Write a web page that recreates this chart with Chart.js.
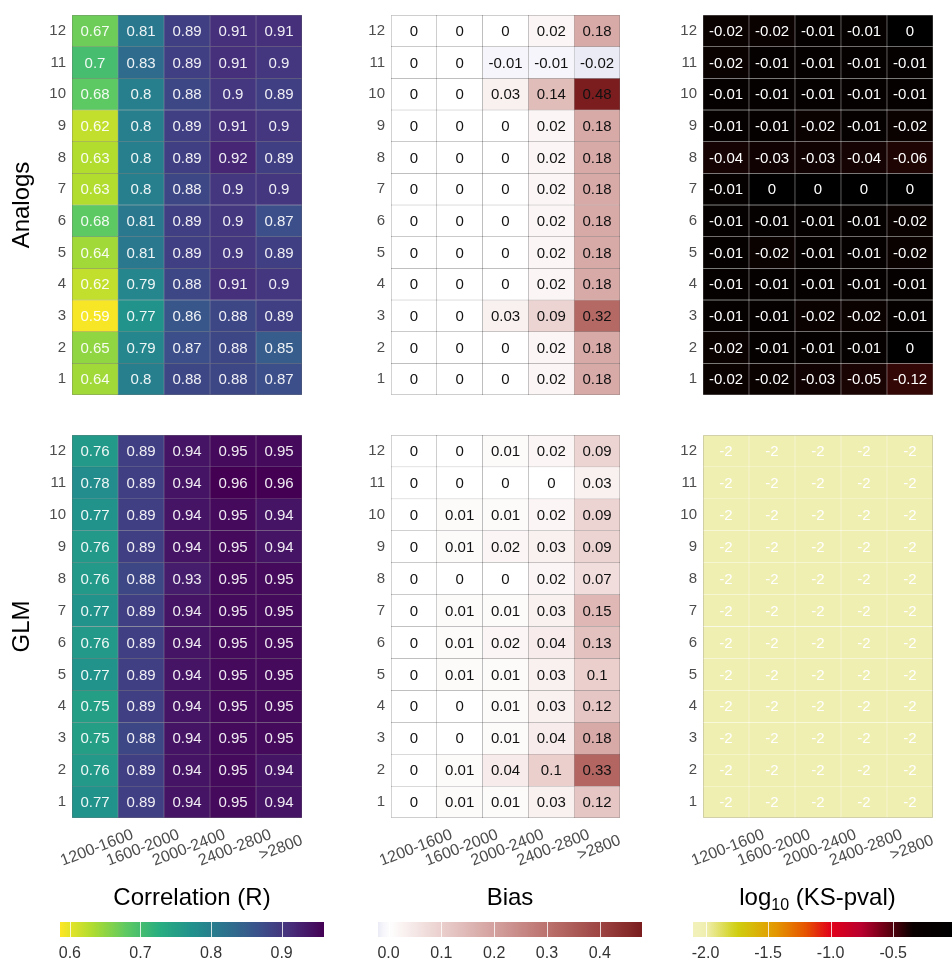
<!DOCTYPE html>
<html>
<head>
<meta charset="utf-8">
<script src="https://cdn.jsdelivr.net/npm/chart.js@4.4.1/dist/chart.umd.min.js"></script>
<style>
  body { margin: 0; background: #fff; }
  #wrap { position: relative; width: 952px; height: 963px; overflow: hidden; }
  canvas { position: absolute; }
</style>
</head>
<body>
<div id="wrap">
  <canvas id="corrTop" width="330" height="410" style="left:0;top:0"></canvas>
  <canvas id="biasTop" width="310" height="410" style="left:335px;top:0"></canvas>
  <canvas id="ksTop" width="302" height="410" style="left:650px;top:0"></canvas>
  <canvas id="corrBot" width="330" height="470" style="left:0;top:420px"></canvas>
  <canvas id="biasBot" width="310" height="470" style="left:335px;top:420px"></canvas>
  <canvas id="ksBot" width="302" height="470" style="left:650px;top:420px"></canvas>
  <canvas id="corrBar" width="300" height="81" style="left:40px;top:882px"></canvas>
  <canvas id="biasBar" width="300" height="81" style="left:358px;top:882px"></canvas>
  <canvas id="ksBar" width="280" height="81" style="left:672px;top:882px"></canvas>
</div>
<script>
const bins = ["1200-1600", "1600-2000", "2000-2400", "2400-2800", ">2800"];
const months = [1, 2, 3, 4, 5, 6, 7, 8, 9, 10, 11, 12];

// each array lists months 12 (top row) down to 1 (bottom row)
const analogsCorr = [
  [0.67, 0.81, 0.89, 0.91, 0.91],
  [0.7, 0.83, 0.89, 0.91, 0.9],
  [0.68, 0.8, 0.88, 0.9, 0.89],
  [0.62, 0.8, 0.89, 0.91, 0.9],
  [0.63, 0.8, 0.89, 0.92, 0.89],
  [0.63, 0.8, 0.88, 0.9, 0.9],
  [0.68, 0.81, 0.89, 0.9, 0.87],
  [0.64, 0.81, 0.89, 0.9, 0.89],
  [0.62, 0.79, 0.88, 0.91, 0.9],
  [0.59, 0.77, 0.86, 0.88, 0.89],
  [0.65, 0.79, 0.87, 0.88, 0.85],
  [0.64, 0.8, 0.88, 0.88, 0.87]
];
const analogsBias = [
  [0, 0, 0, 0.02, 0.18],
  [0, 0, -0.01, -0.01, -0.02],
  [0, 0, 0.03, 0.14, 0.48],
  [0, 0, 0, 0.02, 0.18],
  [0, 0, 0, 0.02, 0.18],
  [0, 0, 0, 0.02, 0.18],
  [0, 0, 0, 0.02, 0.18],
  [0, 0, 0, 0.02, 0.18],
  [0, 0, 0, 0.02, 0.18],
  [0, 0, 0.03, 0.09, 0.32],
  [0, 0, 0, 0.02, 0.18],
  [0, 0, 0, 0.02, 0.18]
];
const analogsKs = [
  [-0.02, -0.02, -0.01, -0.01, 0],
  [-0.02, -0.01, -0.01, -0.01, -0.01],
  [-0.01, -0.01, -0.01, -0.01, -0.01],
  [-0.01, -0.01, -0.02, -0.01, -0.02],
  [-0.04, -0.03, -0.03, -0.04, -0.06],
  [-0.01, 0, 0, 0, 0],
  [-0.01, -0.01, -0.01, -0.01, -0.02],
  [-0.01, -0.02, -0.01, -0.01, -0.02],
  [-0.01, -0.01, -0.01, -0.01, -0.01],
  [-0.01, -0.01, -0.02, -0.02, -0.01],
  [-0.02, -0.01, -0.01, -0.01, 0],
  [-0.02, -0.02, -0.03, -0.05, -0.12]
];
const glmCorr = [
  [0.76, 0.89, 0.94, 0.95, 0.95],
  [0.78, 0.89, 0.94, 0.96, 0.96],
  [0.77, 0.89, 0.94, 0.95, 0.94],
  [0.76, 0.89, 0.94, 0.95, 0.94],
  [0.76, 0.88, 0.93, 0.95, 0.95],
  [0.77, 0.89, 0.94, 0.95, 0.95],
  [0.76, 0.89, 0.94, 0.95, 0.95],
  [0.77, 0.89, 0.94, 0.95, 0.95],
  [0.75, 0.89, 0.94, 0.95, 0.95],
  [0.75, 0.88, 0.94, 0.95, 0.95],
  [0.76, 0.89, 0.94, 0.95, 0.94],
  [0.77, 0.89, 0.94, 0.95, 0.94]
];
const glmBias = [
  [0, 0, 0.01, 0.02, 0.09],
  [0, 0, 0, 0, 0.03],
  [0, 0.01, 0.01, 0.02, 0.09],
  [0, 0.01, 0.02, 0.03, 0.09],
  [0, 0, 0, 0.02, 0.07],
  [0, 0.01, 0.01, 0.03, 0.15],
  [0, 0.01, 0.02, 0.04, 0.13],
  [0, 0.01, 0.01, 0.03, 0.1],
  [0, 0, 0.01, 0.03, 0.12],
  [0, 0, 0.01, 0.04, 0.18],
  [0, 0.01, 0.04, 0.1, 0.33],
  [0, 0.01, 0.01, 0.03, 0.12]
];
const glmKs = [
  [-2, -2, -2, -2, -2],
  [-2, -2, -2, -2, -2],
  [-2, -2, -2, -2, -2],
  [-2, -2, -2, -2, -2],
  [-2, -2, -2, -2, -2],
  [-2, -2, -2, -2, -2],
  [-2, -2, -2, -2, -2],
  [-2, -2, -2, -2, -2],
  [-2, -2, -2, -2, -2],
  [-2, -2, -2, -2, -2],
  [-2, -2, -2, -2, -2],
  [-2, -2, -2, -2, -2]
];

const corrTicks = [0.6, 0.7, 0.8, 0.9];
const biasTicks = [0, 0.1, 0.2, 0.3, 0.4];
const ksTicks = [-2, -1.5, -1, -0.5];

const FONT = '"Liberation Sans", Arial, Helvetica, sans-serif';
Chart.defaults.font.family = FONT;

function hexRgb(h) {
  return [parseInt(h.slice(1, 3), 16), parseInt(h.slice(3, 5), 16), parseInt(h.slice(5, 7), 16)];
}
function ramp(stops, v) {
  if (v <= stops[0][0]) return stops[0][1];
  for (let i = 1; i < stops.length; i++) {
    if (v <= stops[i][0]) {
      const t = (v - stops[i - 1][0]) / (stops[i][0] - stops[i - 1][0]);
      const a = hexRgb(stops[i - 1][1]), b = hexRgb(stops[i][1]);
      const c = a.map((x, k) => Math.round(x + (b[k] - x) * t));
      return `rgb(${c[0]},${c[1]},${c[2]})`;
    }
  }
  return stops[stops.length - 1][1];
}

// viridis, reversed over the correlation range
const viridis = ["#fde725", "#addc30", "#5ec962", "#28ae80", "#21918c", "#2c728e", "#3b528b", "#472d7b", "#440154"];
const corrStops = viridis.map((c, i) => [0.586 + (0.96 - 0.586) * i / (viridis.length - 1), c]);
const biasStops = [[-0.02, "#ebebf6"], [0, "#ffffff"], [0.1, "#eacfcd"], [0.2, "#d3a19e"], [0.3, "#bb726e"], [0.4, "#9d4543"], [0.48, "#7b1d1e"]];
const ksStops = [[-2.2, "#f4f3c4"], [-2.0, "#f0efb2"], [-1.75, "#cfcf10"], [-1.45, "#e39a00"], [-1.2, "#e65400"], [-1.0, "#e2001a"], [-0.75, "#b8002e"], [-0.5, "#50000c"], [-0.35, "#0a0000"], [0, "#000000"]];
// the upper panel's near-zero cells carry a faint red tint
const ksTopStops = [[-0.15, "#3e0909"], [-0.06, "#1f0404"], [0, "#000000"]];

const corrColor = v => ramp(corrStops, v);
const biasColor = v => ramp(biasStops, v);
const ksColor = v => ramp(ksStops, v);
const ksTopColor = v => ramp(ksTopStops, v);

function heatmap(id, rows, colorFn, o) {
  const datasets = rows.map((row, i) => {
    const m = months[months.length - 1 - i];
    return {
      data: row.map(() => [m - 0.5, m + 0.5]),
      backgroundColor: row.map(colorFn),
      borderColor: o.border,
      borderWidth: 0.5,
      borderSkipped: false,
      grouped: false,
      barPercentage: 1,
      categoryPercentage: 1
    };
  });

  const cellText = {
    id: "cellText",
    afterDatasetsDraw(chart) {
      const ctx = chart.ctx, a = chart.chartArea;
      ctx.save();
      ctx.strokeStyle = "rgba(0,0,0,0.14)";
      ctx.lineWidth = 1;
      ctx.strokeRect(a.left + 0.5, a.top + 0.5, a.right - a.left - 1, a.bottom - a.top - 1);
      ctx.font = "15px " + FONT;
      ctx.fillStyle = o.text;
      ctx.textAlign = "center";
      ctx.textBaseline = "middle";
      chart.data.datasets.forEach((ds, i) => {
        chart.getDatasetMeta(i).data.forEach((bar, j) => {
          ctx.fillText(String(rows[i][j]), bar.x, (bar.y + bar.base) / 2 + 1);
        });
      });
      ctx.restore();
    }
  };

  const binText = {
    id: "binText",
    afterDraw(chart) {
      if (!o.xLabels) return;
      const ctx = chart.ctx, xs = chart.scales.x;
      ctx.save();
      ctx.font = "16px " + FONT;
      ctx.fillStyle = "#4d4d4d";
      ctx.textAlign = "center";
      ctx.textBaseline = "middle";
      bins.forEach((b, i) => {
        ctx.save();
        ctx.translate(xs.getPixelForValue(i) + 2, chart.chartArea.bottom + 30);
        ctx.rotate(-21 * Math.PI / 180);
        ctx.fillText(b, 0, 0);
        ctx.restore();
      });
      ctx.restore();
    }
  };

  new Chart(document.getElementById(id), {
    type: "bar",
    data: { labels: bins, datasets },
    options: {
      responsive: false,
      animation: false,
      layout: { padding: o.padding },
      plugins: { legend: { display: false }, tooltip: { enabled: false } },
      scales: {
        x: { display: false },
        y: {
          type: "linear",
          min: 0.5,
          max: 12.5,
          afterBuildTicks: s => { s.ticks = months.map(v => ({ value: v })); },
          afterFit: s => { s.width = o.axisWidth; },
          ticks: { color: "#4d4d4d", font: { size: 15 }, padding: 6 },
          grid: { display: false, drawTicks: false },
          border: { display: false },
          title: {
            display: !!o.title,
            text: o.title || "",
            color: "#000",
            font: { size: 24 },
            padding: { top: 8 }
          }
        }
      }
    },
    plugins: [cellText, binText]
  });
}

const topPad = { top: 13, bottom: 13 };
const botPad = { top: 13, bottom: 72 };
heatmap("corrTop", analogsCorr, corrColor, { border: "rgba(0,0,0,0.3)", text: "rgba(255,255,255,0.92)", axisWidth: 72, title: "Analogs", padding: { ...topPad, right: 28 } });
heatmap("biasTop", analogsBias, biasColor, { border: "rgba(0,0,0,0.32)", text: "#111", axisWidth: 56, padding: { ...topPad, right: 25 } });
heatmap("ksTop", analogsKs, ksTopColor, { border: "rgba(255,255,255,0.3)", text: "#fff", axisWidth: 53, padding: { ...topPad, right: 19 } });
heatmap("corrBot", glmCorr, corrColor, { border: "rgba(0,0,0,0.3)", text: "rgba(255,255,255,0.92)", axisWidth: 72, title: "GLM", padding: { ...botPad, right: 28 }, xLabels: true });
heatmap("biasBot", glmBias, biasColor, { border: "rgba(0,0,0,0.32)", text: "#111", axisWidth: 56, padding: { ...botPad, right: 25 }, xLabels: true });
heatmap("ksBot", glmKs, ksColor, { border: "rgba(255,255,255,0.3)", text: "#fff", axisWidth: 53, padding: { ...botPad, right: 19 }, xLabels: true });

function colorbar(id, min, max, ticks, colorFn, title, pad) {
  const barTitle = {
    id: "barTitle",
    afterDraw(chart) {
      const ctx = chart.ctx, a = chart.chartArea;
      const cx = (a.left + a.right) / 2 + (title.shift || 0), y = a.top - 24;
      ctx.save();
      ctx.fillStyle = "#000";
      ctx.textBaseline = "middle";
      const big = "24px " + FONT, small = "16px " + FONT;
      ctx.font = big;
      const w1 = ctx.measureText(title.main).width;
      ctx.font = small;
      const w2 = title.sub ? ctx.measureText(title.sub).width : 0;
      ctx.font = big;
      const w3 = title.rest ? ctx.measureText(title.rest).width : 0;
      let x = cx - (w1 + w2 + w3) / 2;
      ctx.textAlign = "left";
      ctx.fillText(title.main, x, y);
      x += w1;
      if (title.sub) {
        ctx.font = small;
        ctx.fillText(title.sub, x, y + 8);
        x += w2;
        ctx.font = big;
        ctx.fillText(title.rest, x, y);
      }
      ctx.restore();
    },
    afterDatasetsDraw(chart) {
      const ctx = chart.ctx, a = chart.chartArea, xs = chart.scales.x;
      ctx.save();
      ctx.strokeStyle = "rgba(255,255,255,0.8)";
      ctx.lineWidth = 1;
      ticks.forEach(v => {
        const px = Math.round(xs.getPixelForValue(v)) + 0.5;
        ctx.beginPath();
        ctx.moveTo(px, a.top);
        ctx.lineTo(px, a.bottom);
        ctx.stroke();
      });
      ctx.restore();
    }
  };

  new Chart(document.getElementById(id), {
    type: "bar",
    data: {
      labels: [""],
      datasets: [{
        data: [[min, max]],
        backgroundColor: c => {
          const a = c.chart.chartArea;
          if (!a) return colorFn(min);
          const g = c.chart.ctx.createLinearGradient(a.left, 0, a.right, 0);
          for (let k = 0; k <= 40; k++) g.addColorStop(k / 40, colorFn(min + (max - min) * k / 40));
          return g;
        },
        borderWidth: 0,
        barPercentage: 1,
        categoryPercentage: 1
      }]
    },
    options: {
      indexAxis: "y",
      responsive: false,
      animation: false,
      layout: { padding: pad },
      plugins: { legend: { display: false }, tooltip: { enabled: false } },
      scales: {
        x: {
          type: "linear",
          min,
          max,
          afterBuildTicks: s => { s.ticks = ticks.map(v => ({ value: v })); },
          afterFit: s => { s.height = 26; },
          ticks: { color: "#333", font: { size: 16 }, padding: 7, callback: v => v.toFixed(1) },
          grid: { display: false, drawTicks: false },
          border: { display: false }
        },
        y: { display: false }
      }
    },
    plugins: [barTitle]
  });
}

colorbar("corrBar", 0.586, 0.96, corrTicks, corrColor, { main: "Correlation (R)" }, { left: 20, right: 16, top: 40 });
colorbar("biasBar", -0.02, 0.48, biasTicks, biasColor, { main: "Bias" }, { left: 20, right: 16, top: 40 });
colorbar("ksBar", -2.1, -0.03, ksTicks, ksColor, { main: "log", sub: "10", rest: " (KS-pval)", shift: -5 }, { left: 21, right: 0, top: 40 });
</script>
</body>
</html>
